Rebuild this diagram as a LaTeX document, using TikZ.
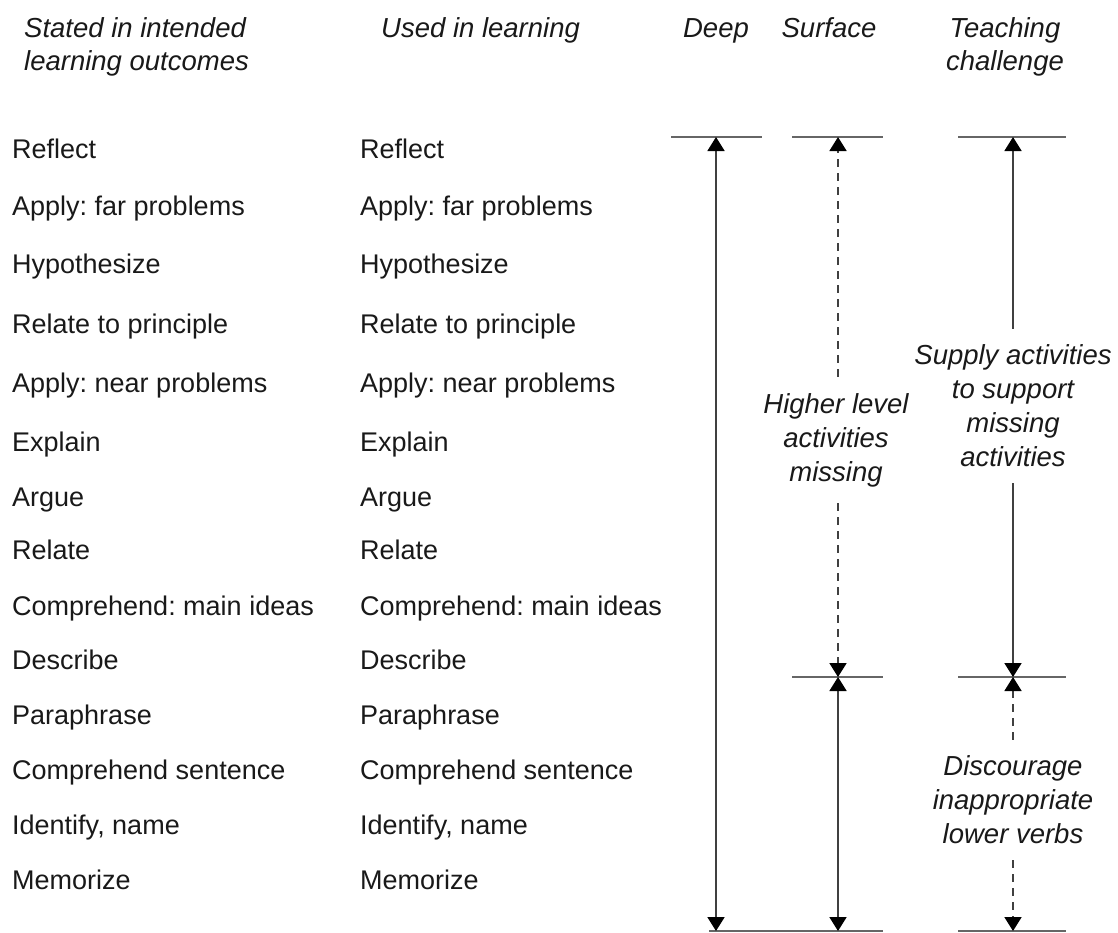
\documentclass[tikz,border=0pt]{standalone}
\usepackage{fontspec}
\setmainfont{Liberation Sans}
\usetikzlibrary{arrows.meta}
\begin{document}
\frenchspacing
\begin{tikzpicture}[x=1pt,y=-1pt,
  verb/.style={anchor=base west,inner sep=0pt,font=\fontsize{27}{30}\selectfont\frenchspacing,text=black!90},
  head/.style={inner sep=0pt,font=\fontsize{27.5}{33}\selectfont\itshape,text=black!90},
  note/.style={inner sep=16pt,align=center,font=\fontsize{27.5}{34}\selectfont\itshape,text=black!90},
  level/.style={draw=black!60,line width=2.6pt},
  span/.style={draw=black!75,line width=1.8pt,{Triangle[width=17pt,length=14pt,color=black,fill=black]}-{Triangle[width=17pt,length=14pt,color=black,fill=black]}},
  upto/.style={draw=black!75,line width=1.8pt,-{Triangle[width=17pt,length=14pt,color=black,fill=black]}},
  gapdash/.style={dash pattern=on 8pt off 6pt}]
\useasboundingbox (0,0) rectangle (1118,932);
% headers
\node[head,anchor=north west,align=left] (h1) at (24,17) {Stated in intended\\learning outcomes};
\node[head,anchor=base west] (h2) at (381,37) {Used in learning};
\node[head,anchor=base] (h3) at (716,37) {Deep};
\node[head,anchor=base] (h4) at (829,37) {Surface};
\node[head,anchor=north,align=center] (h5) at (1005,17) {Teaching\\challenge};
% verbs
\foreach \t/\y [count=\i] in {Reflect/150,Apply: far problems/207,Hypothesize/265,Relate to principle/325,Apply: near problems/384,Explain/443,Argue/498,Relate/551,Comprehend: main ideas/607,Describe/661,Paraphrase/716,Comprehend sentence/771,{Identify, name}/826,Memorize/881}{
  \node[verb] (a\i) at (12,\y+8.5) {\t};
  \node[verb] (b\i) at (360,\y+8.5) {\t};
}
% level lines
\coordinate (dT) at (716,137); \coordinate (dB) at (716,931);
\coordinate (sT) at (838,137); \coordinate (sM) at (838,677); \coordinate (sB) at (838,931);
\coordinate (tT) at (1013,137); \coordinate (tM) at (1013,677); \coordinate (tB) at (1013,931);
\draw[level] (671,137) -- (762,137);
\draw[level] (792,137) -- (883,137);
\draw[level] (958,137) -- (1066,137);
\draw[level] (792,677) -- (883,677);
\draw[level] (958,677) -- (1066,677);
\draw[level] (709,931) -- (883,931);
\draw[level] (958,931) -- (1066,931);
% labels
\node[note] (n1) at (836,440) {Higher level\\activities\\missing};
\node[note] (n2) at (1013,406) {Supply activities\\to support\\missing\\activities};
\node[note] (n3) at (1013,800) {Discourage\\inappropriate\\lower verbs};
% arrows
\draw[span] (dT) -- (dB);
\draw[upto,gapdash] (n1.north -| sT) -- (sT);
\draw[upto,gapdash] (n1.south -| sM) -- (sM);
\draw[span] (sM) -- (sB);
\draw[upto] (n2.north -| tT) -- (tT);
\draw[upto] (n2.south -| tM) -- (tM);
\draw[upto,gapdash] (n3.north -| tM) -- (tM);
\draw[upto,gapdash] (n3.south -| tB) -- (tB);
\end{tikzpicture}
\end{document}
